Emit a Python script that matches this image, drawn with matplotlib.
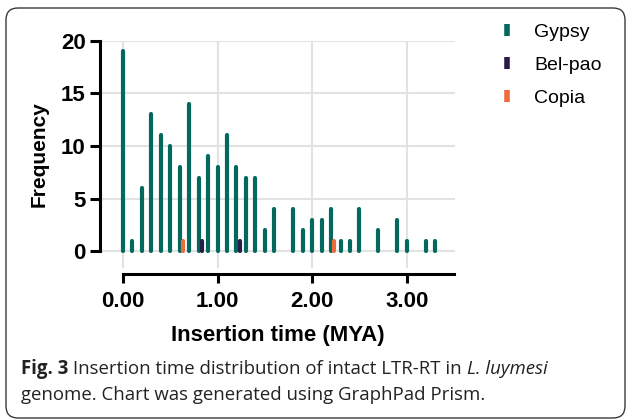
import matplotlib
matplotlib.use("Agg")
import matplotlib.pyplot as plt
from matplotlib.lines import Line2D
from matplotlib.patches import FancyBboxPatch
from matplotlib.transforms import IdentityTransform

# ---------------- data ----------------
insertion_time = [0.0, 0.1, 0.2, 0.3, 0.4, 0.5, 0.6, 0.7, 0.8, 0.9,
                  1.0, 1.1, 1.2, 1.3, 1.4, 1.5, 1.6, 1.7, 1.8, 1.9,
                  2.0, 2.1, 2.2, 2.3, 2.4, 2.5, 2.6, 2.7, 2.8, 2.9,
                  3.0, 3.1, 3.2, 3.3]
gypsy = [19, 1, 6, 13, 11, 10, 8, 14, 7, 9,
         8, 11, 8, 7, 7, 2, 4, 0, 4, 2,
         3, 3, 4, 1, 1, 4, 0, 2, 0, 3,
         1, 0, 1, 1]
belpao_time = [0.8, 1.2]
belpao = [1, 1]
copia_time = [0.6, 2.2]
copia = [1, 1]

series_names = ["Gypsy", "Bel-pao", "Copia"]
colors = ["#03695F", "#2A1B47", "#EE6B3B"]
x_ticks = [0, 1, 2, 3]
x_ticklabels = ["0.00", "1.00", "2.00", "3.00"]
y_ticks = [0, 5, 10, 15, 20]

# ---------------- figure ----------------
W, H, DPI = 626, 419, 100
fig = plt.figure(figsize=(W / DPI, H / DPI), dpi=DPI)
plt.rcParams['font.family'] = ['Liberation Sans', 'DejaVu Sans']

def px_box(l, t, r, b):
    return [l / W, (H - b) / H, (r - l) / W, (b - t) / H]

ax = fig.add_axes(px_box(100, 40.7, 455, 268))
ax.set_xlim(-0.243, 3.51)
ax.set_ylim(-1.6, 20)

lw_bar = 3.0
offset = 0.035
gx = [x for x, v in zip(insertion_time, gypsy) if v > 0]
gv = [v for v in gypsy if v > 0]
ax.vlines(gx, 0, gv, colors=colors[0], linewidth=lw_bar,
          capstyle='round', zorder=3)
ax.vlines([x + offset for x in belpao_time], 0, belpao, colors=colors[1],
          linewidth=lw_bar, capstyle='round', zorder=4)
ax.vlines([x + offset for x in copia_time], 0, copia, colors=colors[2],
          linewidth=lw_bar, capstyle='round', zorder=4)

# grid
ax.set_xticks(x_ticks)
ax.set_xticklabels(x_ticklabels)
ax.set_yticks(y_ticks)
ax.grid(True, color="#E2E2E2", linewidth=1.5, zorder=0)
ax.set_axisbelow(True)

for s in ["top", "right"]:
    ax.spines[s].set_visible(False)
ax.spines["left"].set_bounds(0, 20)
ax.spines["left"].set_linewidth(2.2)
ax.spines["bottom"].set_bounds(0, 3.5)
ax.spines["bottom"].set_position(("outward", 4.3))
ax.spines["bottom"].set_linewidth(2.2)

ax.tick_params(axis="y", direction="out", length=7.2, width=2.2, pad=3,
               labelsize=16)
ax.tick_params(axis="x", direction="out", length=6.5, width=2.2, pad=6,
               labelsize=16)
for lab in ax.get_xticklabels() + ax.get_yticklabels():
    lab.set_fontweight("bold")

ax.set_xlabel("Insertion time (MYA)", fontsize=16, fontweight="bold",
              labelpad=9)
ax.set_ylabel("Frequency", fontsize=15, fontweight="bold", labelpad=9)

# legend
handles = [Line2D([], [], linestyle="none", marker="|", markersize=9,
                  markeredgewidth=4.0, color=c) for c in colors]
fig.legend(handles, series_names, loc="upper left",
           bbox_to_anchor=(497 / W, (H - 23) / H), frameon=False,
           fontsize=14, handlelength=1.0, handletextpad=0.9,
           labelspacing=0.8, borderpad=0, borderaxespad=0)

# card border
card = FancyBboxPatch((6, 1), 619, 410, boxstyle="round,pad=0,rounding_size=12",
                      transform=IdentityTransform(), facecolor="none",
                      edgecolor="#3a3a3a", linewidth=1.0)
fig.patches.append(card)

# caption
cap_font = ["Open Sans", "DejaVu Sans"]
renderer = fig.canvas.get_renderer()

def write_line(pieces, x0, y0, size):
    x = x0
    for text, weight, style in pieces:
        t = fig.text(x / W, (H - y0) / H, text, fontsize=size,
                     family=cap_font, fontweight=weight, fontstyle=style,
                     color="#222222", va="baseline", ha="left")
        bb = t.get_window_extent(renderer)
        x += bb.width

write_line([("Fig. 3", "bold", "normal"),
            (" Insertion time distribution of intact LTR-RT in ", "normal", "normal"),
            ("L. luymesi", "normal", "italic")], 21, 374, 13.4)
write_line([("genome. Chart was generated using GraphPad Prism.", "normal", "normal")],
           21, 400, 13.4)

fig.savefig("out.png", dpi=DPI)
